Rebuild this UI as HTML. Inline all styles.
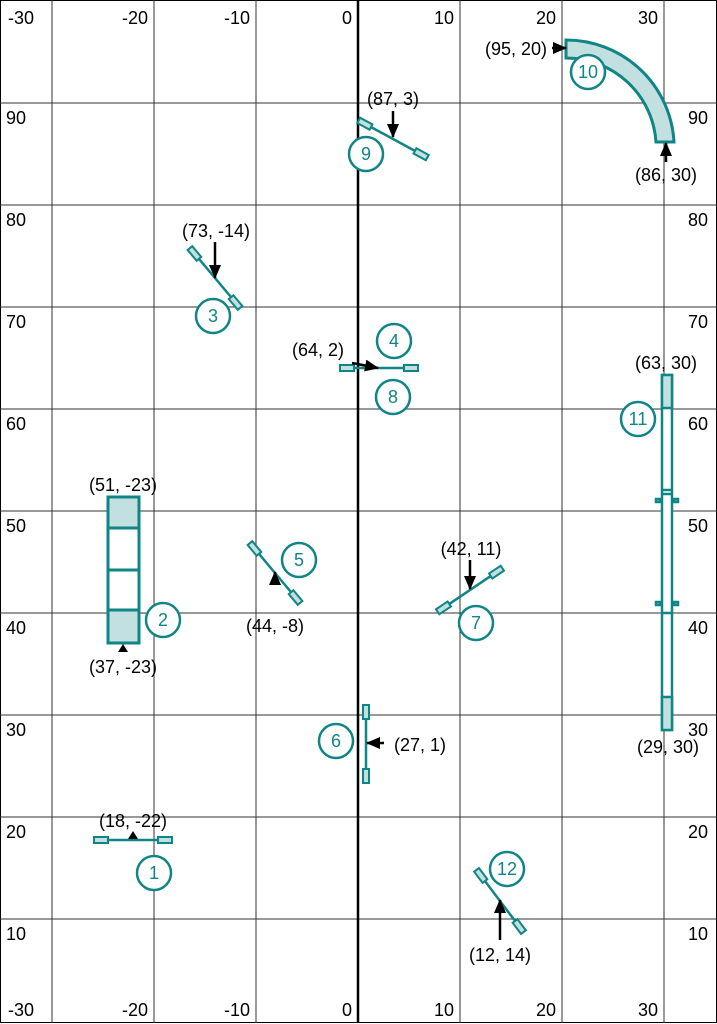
<!DOCTYPE html>
<html><head><meta charset="utf-8"><style>
body{margin:0;background:#fff}
svg{display:block;font-family:"Liberation Sans",Arial,sans-serif}
</style></head><body>
<svg width="717" height="1024" viewBox="0 0 717 1024" xmlns="http://www.w3.org/2000/svg">
<defs>
<g id="beam"><line x1="-39" y1="0" x2="39" y2="0" stroke="#0f8585" stroke-width="2.5"/>
<rect x="-39" y="-3" width="14" height="6" fill="#c3e0e0" stroke="#0f8585" stroke-width="2"/>
<rect x="25" y="-3" width="14" height="6" fill="#c3e0e0" stroke="#0f8585" stroke-width="2"/></g>
<marker id="ah" markerWidth="14" markerHeight="12" refX="13" refY="6" orient="auto" markerUnits="userSpaceOnUse"><path d="M0,0L14,6L0,12z" fill="#000"/></marker>
</defs>
<rect x="0.5" y="0.5" width="716" height="1022" fill="#fff" stroke="#000"/>
<g stroke="#333" stroke-width="1">
<line x1="52" y1="0" x2="52" y2="1023"/><line x1="154" y1="0" x2="154" y2="1023"/><line x1="256" y1="0" x2="256" y2="1023"/>
<line x1="460" y1="0" x2="460" y2="1023"/><line x1="562" y1="0" x2="562" y2="1023"/><line x1="664" y1="0" x2="664" y2="1023"/>
<line x1="0" y1="103" x2="717" y2="103"/><line x1="0" y1="205" x2="717" y2="205"/><line x1="0" y1="307" x2="717" y2="307"/>
<line x1="0" y1="409" x2="717" y2="409"/><line x1="0" y1="511" x2="717" y2="511"/><line x1="0" y1="613" x2="717" y2="613"/>
<line x1="0" y1="715" x2="717" y2="715"/><line x1="0" y1="817" x2="717" y2="817"/><line x1="0" y1="919" x2="717" y2="919"/>
</g>
<line x1="358" y1="0" x2="358" y2="1023" stroke="#000" stroke-width="2.5"/>
<g font-size="18" fill="#000" text-anchor="end">
<text x="34" y="24">-30</text><text x="148" y="24">-20</text><text x="250" y="24">-10</text><text x="352" y="24">0</text><text x="454" y="24">10</text><text x="556" y="24">20</text><text x="658" y="24">30</text>
<text x="34" y="1016">-30</text><text x="148" y="1016">-20</text><text x="250" y="1016">-10</text><text x="352" y="1016">0</text><text x="454" y="1016">10</text><text x="556" y="1016">20</text><text x="658" y="1016">30</text>
</g>
<g font-size="18" fill="#000">
<text x="6" y="124">90</text><text x="6" y="226">80</text><text x="6" y="328">70</text><text x="6" y="430">60</text><text x="6" y="532">50</text><text x="6" y="634">40</text><text x="6" y="736">30</text><text x="6" y="838">20</text><text x="6" y="940">10</text>
<text x="688" y="124">90</text><text x="688" y="226">80</text><text x="688" y="328">70</text><text x="688" y="430">60</text><text x="688" y="532">50</text><text x="688" y="634">40</text><text x="688" y="736">30</text><text x="688" y="838">20</text><text x="688" y="940">10</text>
</g>
<path d="M566,40 A108,108 0 0 1 674,142 L656,142 A90,90 0 0 0 566,58 Z" fill="#c3e0e0" stroke="#0f8585" stroke-width="3"/>
<g fill="none" stroke="#0f8585" stroke-width="3">
<rect x="108" y="528" width="31" height="82" fill="#fff"/>
<rect x="108" y="497" width="31" height="31" fill="#c3e0e0"/>
<rect x="108" y="610" width="31" height="33" fill="#c3e0e0"/>
<line x1="108" y1="570" x2="139" y2="570"/>
</g>
<g stroke="#0f8585" stroke-width="2.5">
<rect x="662" y="375" width="10" height="355" fill="#fff"/>
<rect x="662" y="375" width="10" height="33" fill="#c3e0e0"/>
<rect x="662" y="697" width="10" height="33" fill="#c3e0e0"/>
<line x1="662" y1="490" x2="672" y2="490"/><line x1="662" y1="494" x2="672" y2="494"/><line x1="662" y1="613" x2="672" y2="613"/>
<rect x="656" y="499" width="4" height="3" fill="#c3e0e0"/><rect x="674" y="499" width="4" height="3" fill="#c3e0e0"/>
<rect x="656" y="602" width="4" height="3" fill="#c3e0e0"/><rect x="674" y="602" width="4" height="3" fill="#c3e0e0"/>
</g>
<use href="#beam" transform="translate(133,840)"/>
<use href="#beam" transform="translate(215,278) rotate(50)"/>
<use href="#beam" transform="translate(379,368)"/>
<use href="#beam" transform="translate(275,573) rotate(50)"/>
<use href="#beam" transform="translate(366,744) rotate(90)"/>
<use href="#beam" transform="translate(470,590) rotate(-34)"/>
<use href="#beam" transform="translate(393,139) rotate(28.5)"/>
<use href="#beam" transform="translate(500,901) rotate(53)"/>
<g stroke="#000" stroke-width="2.5" marker-end="url(#ah)">
<line x1="215" y1="242" x2="215" y2="278"/>
<line x1="352" y1="363" x2="378" y2="368"/>
<line x1="275" y1="584" x2="275" y2="572"/>
<line x1="384" y1="743" x2="367" y2="743"/>
<line x1="470" y1="560" x2="470" y2="589"/>
<line x1="393" y1="111" x2="393" y2="137"/>
<line x1="500" y1="940" x2="500" y2="900"/>
<line x1="666" y1="162" x2="666" y2="143"/>
<line x1="552" y1="48" x2="566" y2="48"/>
</g>
<g fill="#000"><path d="M128,839L138,839L133,831z"/><path d="M118,652L128,652L123,644z"/></g>
<g font-size="18" fill="#000" text-anchor="middle">
<text x="133" y="827">(18, -22)</text>
<text x="123" y="491">(51, -23)</text>
<text x="123" y="673">(37, -23)</text>
<text x="216" y="237">(73, -14)</text>
<text x="318" y="356">(64, 2)</text>
<text x="275" y="632">(44, -8)</text>
<text x="420" y="751">(27, 1)</text>
<text x="471" y="555">(42, 11)</text>
<text x="393" y="105">(87, 3)</text>
<text x="516" y="55">(95, 20)</text>
<text x="666" y="181">(86, 30)</text>
<text x="666" y="369">(63, 30)</text>
<text x="668" y="753">(29, 30)</text>
<text x="500" y="961">(12, 14)</text>
</g>
<g fill="#fff" stroke="#0f8585" stroke-width="2.5">
<circle cx="154" cy="873" r="17"/><circle cx="163" cy="620" r="17"/><circle cx="213" cy="316" r="17"/>
<circle cx="394" cy="341" r="17"/><circle cx="393" cy="397" r="17"/><circle cx="299" cy="560" r="17"/>
<circle cx="336" cy="741" r="17"/><circle cx="476" cy="623" r="17"/><circle cx="366" cy="154" r="17"/>
<circle cx="588" cy="72" r="17"/><circle cx="638" cy="419" r="17"/><circle cx="507" cy="869" r="17"/>
</g>
<g font-size="18" fill="#0f8585" text-anchor="middle">
<text x="154" y="879">1</text><text x="163" y="626">2</text><text x="213" y="322">3</text>
<text x="394" y="347">4</text><text x="393" y="403">8</text><text x="299" y="566">5</text>
<text x="336" y="747">6</text><text x="476" y="629">7</text><text x="366" y="160">9</text>
<text x="588" y="78">10</text><text x="638" y="425">11</text><text x="507" y="875">12</text>
</g>
</svg>
</body></html>
